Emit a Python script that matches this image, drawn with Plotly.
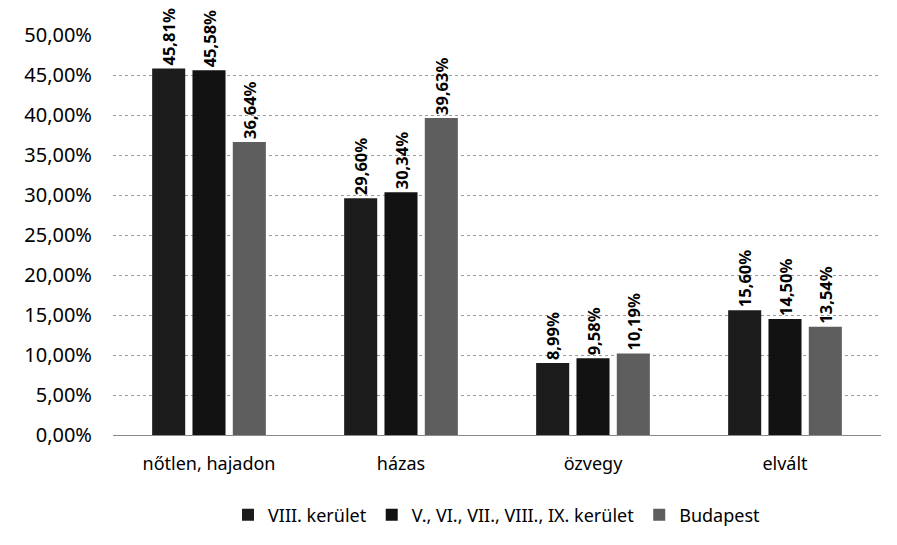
import plotly.graph_objects as go

categories = ["nőtlen, hajadon", "házas", "özvegy", "elvált"]
series_names = ["VIII. kerület", "V., VI., VII., VIII., IX. kerület", "Budapest"]
viii_ker = [45.81, 29.60, 8.99, 15.60]
belso_ker = [45.58, 30.34, 9.58, 14.50]
budapest = [36.64, 39.63, 10.19, 13.54]
y_ticks = [0, 5, 10, 15, 20, 25, 30, 35, 40, 45, 50]

colors = ["#1c1c1c", "#121212", "#5e5e5e"]


def fmt(v):
    return f"{v:.2f}".replace(".", ",") + "%"


fig = go.Figure()
for name, vals, col in zip(series_names, [viii_ker, belso_ker, budapest], colors):
    fig.add_trace(go.Bar(
        x=categories, y=vals, name=name,
        marker=dict(color=col, line=dict(width=0)),
        text=[fmt(v) for v in vals],
        textposition="outside", textangle=-90, constraintext="none",
        textfont=dict(family="Noto Sans", size=16.5, color="black", weight="bold"),
        cliponaxis=False,
    ))

fig.update_layout(
    width=889, height=537,
    barmode="group", bargap=0.37, bargroupgap=0.18,
    plot_bgcolor="white", paper_bgcolor="white",
    margin=dict(l=105, r=16, t=27, b=110),
    font=dict(family="Noto Sans", size=17, color="black"),
    xaxis=dict(showline=False, ticks="", tickfont=dict(size=18), ticklabelstandoff=16),
    yaxis=dict(
        range=[0, 50],
        tickvals=y_ticks,
        ticktext=[f"{t},00%" for t in y_ticks],
        showgrid=True, gridcolor="#9a9a9a", griddash="dot", gridwidth=1,
        zeroline=True, zerolinecolor="#8a8a8a", zerolinewidth=1,
        ticks="", tickfont=dict(size=20), ticklabelstandoff=20,
    ),
    legend=dict(orientation="h", x=0.5, xanchor="center", y=-0.2, yanchor="middle",
                font=dict(size=18), itemwidth=30, traceorder="normal"),
    showlegend=True,
)
# faint scan border along the top and left edges
fig.add_shape(type="line", xref="paper", yref="paper", x0=-0.142, x1=1.02, y0=1.08, y1=1.08,
              line=dict(color="#a0a0a0", width=1, dash="dot"))
fig.add_shape(type="line", xref="paper", yref="paper", x0=-0.142, x1=-0.142, y0=1.08, y1=-0.18,
              line=dict(color="#a0a0a0", width=1, dash="dot"))

fig.write_html("out.html")
